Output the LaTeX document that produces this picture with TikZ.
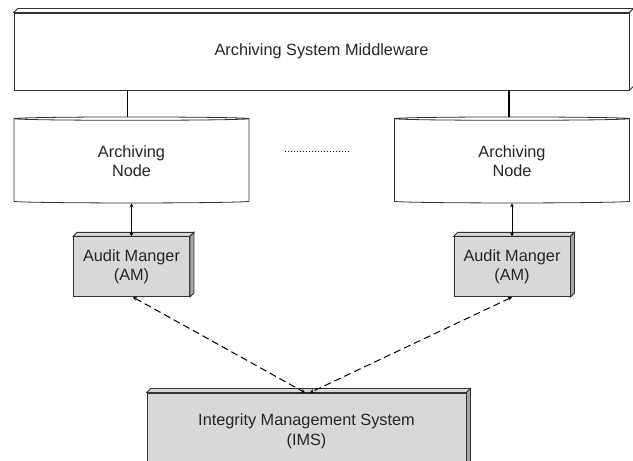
\documentclass[tikz,border=0pt]{standalone}
\usepackage{fontspec}
\setmainfont{Liberation Sans}
\usetikzlibrary{arrows.meta, positioning, shapes.geometric}
\definecolor{boxgrey}{RGB}{216, 216, 216}
\definecolor{sidegrey}{RGB}{165, 165, 165}
\definecolor{edgegrey}{RGB}{50, 50, 50}

\begin{document}
\begin{tikzpicture}[
                x=1pt, y=1pt,
                node distance=33pt,
                every node/.style={font=\fontsize{16.3}{19.6}\selectfont, text=black!85,
                    align=center, inner sep=0pt},
                slab/.style={draw=edgegrey, line width=0.8pt, fill=boxgrey},
                archnode/.style={cylinder, shape border rotate=90, aspect=0.05,
                    draw=edgegrey, line width=0.8pt, fill=white,
                    minimum width=235pt, minimum height=86pt},
                link/.style={line width=1.5pt},
                arrow/.style={{Stealth[length=4pt, width=4pt]}-{Stealth[length=4pt, width=4pt]}, line width=1pt},
                dasharrow/.style={arrow, dash pattern=on 7pt off 4pt}
            ]
                \useasboundingbox (0,0) rectangle (633,461);
                \node[slab, fill=white, minimum width=615pt, minimum height=77pt] (mw) at (321.5,409.5) {Archiving System Middleware};
                \node[archnode] (arcL) at (131.5,300) {Archiving\\Node};
                \node[archnode] (arcR) at (512,300)   {Archiving\\Node};
                \node[slab, minimum width=116pt, minimum height=60pt] (amL) [below=of arcL] {Audit Manger\\(AM)};
                \node[slab, minimum width=116pt, minimum height=60pt] (amR) [below=of arcR] {Audit Manger\\(AM)};
                \node[slab, minimum width=319pt, minimum height=76pt] (ims) at (306.5,30) {Integrity Management System\\(IMS)};
                % 3d faces
                \foreach \n/\t/\s in {mw/white/white, amL/boxgrey/sidegrey, amR/boxgrey/sidegrey, ims/boxgrey/sidegrey} {
                    \draw[slab, fill=\t] (\n.north west) -- ++(4,4) -- ([shift={(4,4)}]\n.north east) -- (\n.north east) -- cycle;
                    \draw[slab, fill=\s] (\n.north east) -- ++(4,4) -- ([shift={(4,4)}]\n.south east) -- (\n.south east) -- cycle;
                }
                \coordinate (tL) at ([xshift=-4pt]arcL.north);
                \coordinate (tR) at ([xshift=-3pt]arcR.north);
                \draw[link] (tL) -- (tL |- mw.south);
                \draw[link] (tR) -- (tR |- mw.south);
                \draw[dotted, line width=1pt] ([shift={(36,9)}]arcL.east) -- ([shift={(-45,9)}]arcR.west);
                \draw[arrow] (arcL.south) -- (amL.north);
                \draw[arrow] (arcR.south) -- (amR.north);
                \draw[dasharrow] ([xshift=1.5pt]amL.south) -- ([xshift=-1.5pt]ims.north);
                \draw[dasharrow] (amR.south) -- ([xshift=3.5pt]ims.north);
            \end{tikzpicture}
\end{document}
